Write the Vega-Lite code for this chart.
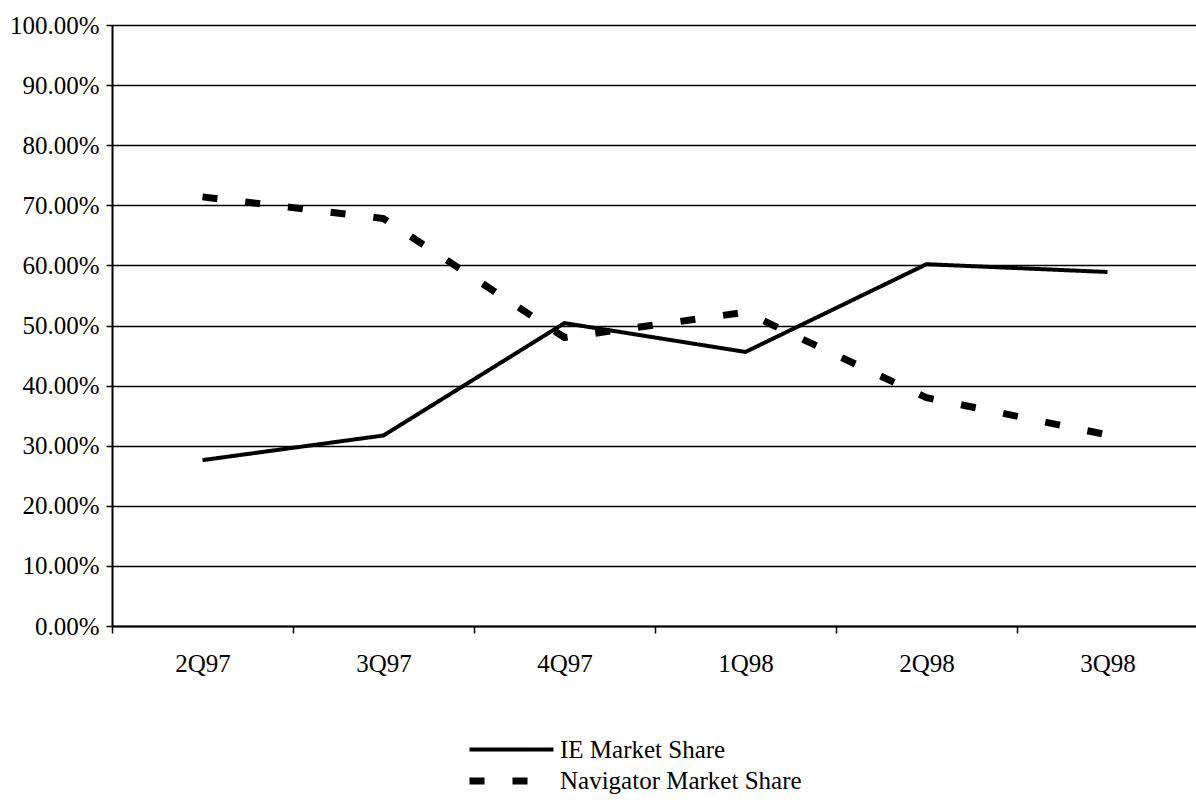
{
  "$schema": "https://vega.github.io/schema/vega-lite/v6.json",
  "autosize": {"type": "none"},
  "width": 1086,
  "height": 601,
  "padding": {"left": 112, "top": 25, "right": 0, "bottom": 178},
  "background": "white",
  "config": {
    "font": "Liberation Serif",
    "view": {"stroke": null}
  },
  "data": {
    "values": [
      {"quarter": "2Q97", "series": "IE Market Share", "share": 0.276},
      {"quarter": "3Q97", "series": "IE Market Share", "share": 0.317},
      {"quarter": "4Q97", "series": "IE Market Share", "share": 0.504},
      {"quarter": "1Q98", "series": "IE Market Share", "share": 0.456},
      {"quarter": "2Q98", "series": "IE Market Share", "share": 0.602},
      {"quarter": "3Q98", "series": "IE Market Share", "share": 0.589},
      {"quarter": "2Q97", "series": "Navigator Market Share", "share": 0.714},
      {"quarter": "3Q97", "series": "Navigator Market Share", "share": 0.678},
      {"quarter": "4Q97", "series": "Navigator Market Share", "share": 0.480},
      {"quarter": "1Q98", "series": "Navigator Market Share", "share": 0.522},
      {"quarter": "2Q98", "series": "Navigator Market Share", "share": 0.380},
      {"quarter": "3Q98", "series": "Navigator Market Share", "share": 0.318}
    ]
  },
  "mark": {"type": "line", "color": "black", "strokeCap": "butt", "strokeJoin": "miter"},
  "encoding": {
    "x": {
      "field": "quarter",
      "type": "nominal",
      "sort": ["2Q97", "3Q97", "4Q97", "1Q98", "2Q98", "3Q98"],
      "bandPosition": 0.5,
      "scale": {"type": "band", "paddingInner": 0, "paddingOuter": 0},
      "axis": {
        "title": null,
        "labelAngle": 0,
        "labelFont": "Liberation Serif",
        "labelFontSize": 25,
        "labelColor": "black",
        "labelPadding": 18,
        "tickBand": "extent",
        "tickSize": 7,
        "tickColor": "black",
        "tickWidth": 1.5,
        "domainColor": "black",
        "domainWidth": 2,
        "grid": false
      }
    },
    "y": {
      "field": "share",
      "type": "quantitative",
      "scale": {"domain": [0, 1], "nice": false, "zero": true},
      "axis": {
        "title": null,
        "values": [0, 0.1, 0.2, 0.3, 0.4, 0.5, 0.6, 0.7, 0.8, 0.9, 1.0],
        "format": ".2%",
        "labelFont": "Liberation Serif",
        "labelFontSize": 25,
        "labelColor": "black",
        "labelPadding": 7,
        "tickSize": 6,
        "tickColor": "black",
        "tickWidth": 1.5,
        "domainColor": "black",
        "domainWidth": 2,
        "grid": true,
        "gridColor": "black",
        "gridWidth": 1.5,
        "gridOpacity": 1
      }
    },
    "strokeDash": {
      "field": "series",
      "type": "nominal",
      "scale": {
        "domain": ["IE Market Share", "Navigator Market Share"],
        "range": [[1, 0], [15, 28]]
      },
      "legend": {
        "orient": "none",
        "legendX": 354,
        "legendY": 712,
        "direction": "vertical",
        "title": null,
        "symbolType": "M-1,0H7",
        "symbolSize": 441,
        "symbolStrokeColor": "black",
        "symbolFillColor": "transparent",
        "symbolStrokeWidth": 5,
        "labelFont": "Liberation Serif",
        "labelFontSize": 25,
        "labelColor": "black",
        "labelOffset": 66,
        "rowPadding": 4,
        "labelLimit": 400
      }
    },
    "strokeWidth": {
      "field": "series",
      "type": "nominal",
      "scale": {
        "domain": ["IE Market Share", "Navigator Market Share"],
        "range": [4, 7]
      },
      "legend": null
    }
  }
}
